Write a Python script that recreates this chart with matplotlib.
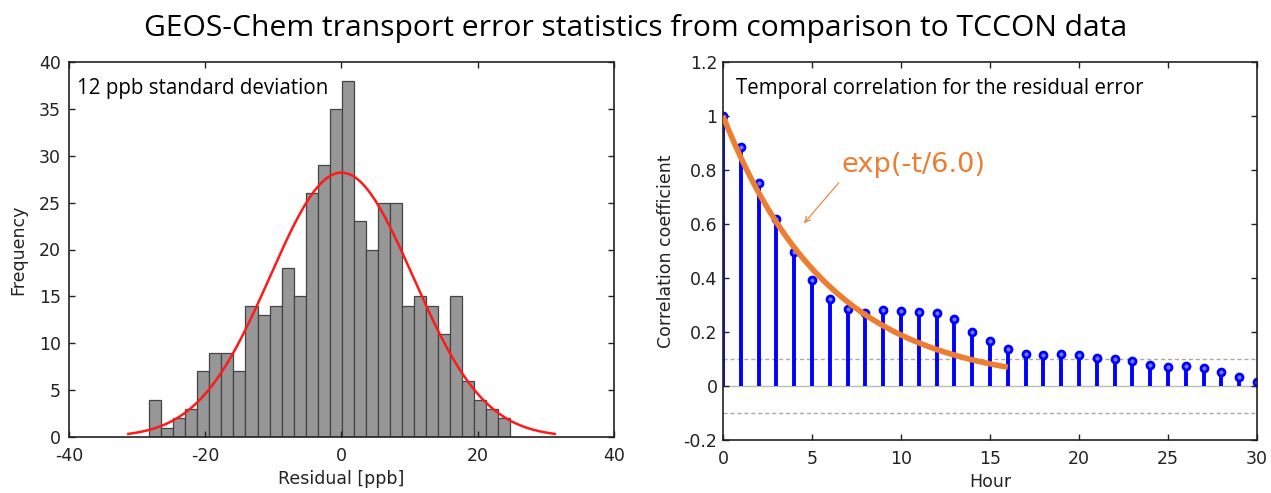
import matplotlib
matplotlib.use('Agg')
import matplotlib.pyplot as plt
import numpy as np

# histogram of residuals [ppb]
bin_lo, bin_hi = -28.2, 24.7
counts = [4, 1, 2, 3, 7, 9, 9, 7, 14, 13, 14, 18, 15, 26, 29,
          35, 38, 23, 20, 25, 25, 14, 15, 14, 11, 15, 6, 4, 3, 2]
# fitted normal curve
fit_mean, fit_sigma, fit_peak = 0.0, 10.5, 28.2
fit_range = (-31.3, 31.3)

# temporal autocorrelation of residual error
hours = list(range(31))
corr = [1.0, 0.887, 0.753, 0.618, 0.497, 0.392, 0.323, 0.286, 0.270, 0.280,
        0.278, 0.274, 0.269, 0.250, 0.201, 0.165, 0.136, 0.119, 0.116, 0.118,
        0.116, 0.104, 0.099, 0.091, 0.078, 0.070, 0.075, 0.066, 0.051, 0.034,
        0.016]
tau = 6.0
tau_hours = (0, 16)
conf = 0.1

plt.rcParams['font.family'] = 'DejaVu Sans'
plt.rcParams['axes.unicode_minus'] = False
fig = plt.figure(figsize=(12.71, 4.93), dpi=100)

fig.text(0.5, 1 - 36/493, 'GEOS-Chem transport error statistics from comparison to TCCON data',
         ha='center', va='baseline', fontsize=21.6, family='Open Sans')

def matlab_box(ax):
    ax.tick_params(direction='in', top=True, right=True, length=4, width=1,
                   labelsize=12.5, colors='#222222')
    for s in ax.spines.values():
        s.set_linewidth(1.2)
        s.set_color('#222222')

# left panel
ax1 = fig.add_axes([69/1271, 1 - 437/493, 545/1271, 375/493])
edges = np.linspace(bin_lo, bin_hi, len(counts) + 1)
ax1.bar(edges[:-1], counts, width=np.diff(edges), align='edge',
        color='#979797', edgecolor='#444444', linewidth=0.9)
xs = np.linspace(fit_range[0], fit_range[1], 300)
ax1.plot(xs, fit_peak * np.exp(-0.5 * ((xs - fit_mean) / fit_sigma) ** 2),
         color='#ff1a1a', lw=1.8)
ax1.set_xlim(-40, 40)
ax1.set_ylim(0, 40)
ax1.set_xticks([-40, -20, 0, 20, 40])
ax1.set_yticks(range(0, 41, 5))
matlab_box(ax1)
ax1.tick_params(axis='x', pad=7)
ax1.tick_params(axis='y', pad=6)
ax1.set_xlabel('Residual [ppb]', fontsize=12.5, color='#222222', labelpad=4)
ax1.set_ylabel('Frequency', fontsize=12.5, color='#222222', labelpad=8)
ax1.text(0.015, 0.93, '12 ppb standard deviation', transform=ax1.transAxes,
         fontsize=14.8, family='Open Sans', va='center', ha='left')

# right panel
ax2 = fig.add_axes([723/1271, 1 - 440/493, 534/1271, 378/493])
ax2.axhline(0, color='#bbbbbb', lw=1, zorder=1)
for yv in (conf, -conf):
    ax2.axhline(yv, color='#aaaaaa', lw=1, ls=(0, (3, 2)), zorder=1)
ml, sl, bl = ax2.stem(hours, corr, basefmt=' ')
plt.setp(sl, color='#0000ff', linewidth=2.8)
plt.setp(ml, color='#0000ff', marker='o', markersize=5, markeredgewidth=2,
         markerfacecolor='#6f78ff')
tt = np.linspace(tau_hours[0], tau_hours[1], 200)
ax2.plot(tt, np.exp(-tt / tau), color='#ed7d31', lw=4, solid_capstyle='butt', zorder=5)
ax2.annotate('', xy=(4.45, 0.595), xytext=(6.6, 0.76),
             arrowprops=dict(arrowstyle='->', color='#ed7d31', lw=0.8))
ax2.text(6.65, 0.82, 'exp(-t/6.0)', color='#ed7d31', fontsize=19.6, va='center', ha='left')
ax2.set_xlim(0, 30)
ax2.set_ylim(-0.2, 1.2)
ax2.set_xticks(range(0, 31, 5))
yt = [-0.2, 0, 0.2, 0.4, 0.6, 0.8, 1.0, 1.2]
ax2.set_yticks(yt)
ax2.set_yticklabels(['-0.2', '0', '0.2', '0.4', '0.6', '0.8', '1', '1.2'])
matlab_box(ax2)
ax2.tick_params(axis='x', pad=7)
ax2.tick_params(axis='y', pad=4)
ax2.set_xlabel('Hour', fontsize=12.5, color='#222222', labelpad=4)
ax2.set_ylabel('Correlation coefficient', fontsize=12.5, color='#222222', labelpad=6)
ax2.text(0.025, 0.93, 'Temporal correlation for the residual error', transform=ax2.transAxes,
         fontsize=14.8, family='Open Sans', va='center', ha='left')

fig.savefig('out.png', dpi=100)
